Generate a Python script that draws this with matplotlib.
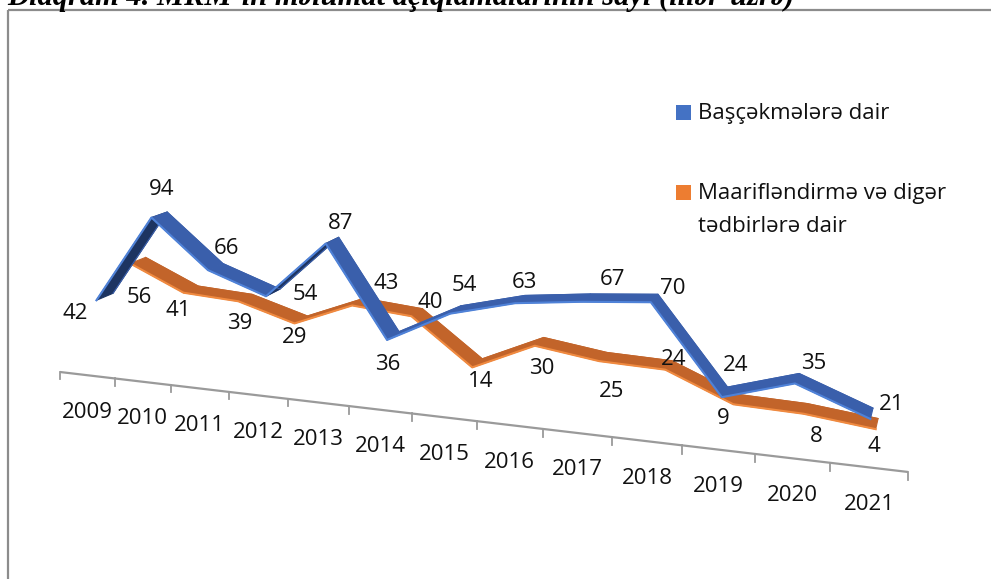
import numpy as np
import matplotlib
matplotlib.use("Agg")
import matplotlib.pyplot as plt
import matplotlib.transforms as mtransforms
from matplotlib.patches import Polygon, Rectangle

# ---------------- data ----------------
years = ["2009", "2010", "2011", "2012", "2013", "2014", "2015",
         "2016", "2017", "2018", "2019", "2020", "2021"]
series_names = [["Başçəkmələrə dair"], ["Maarifləndirmə və digər", "tədbirlərə dair"]]
basc_values = [42, 94, 66, 54, 87, 36, 54, 63, 67, 70, 24, 35, 21]
maarif_values = [56, 41, 39, 29, 43, 40, 14, 30, 25, 24, 9, 8, 4]
title_text = "Diaqram 4. MRM-in məlumat açıqlamalarının sayı (illər-üzrə)"

# ---------------- label placement (pixels, right/down) ----------------
basc_label_off = [(-30, 17), (2, -25), (11, -18), (32, 2), (8, -17), (-5, 29), (9, -24),
                  (4, -17), (26, -18), (18, -10), (11, -27), (17, -15), (20, -9)]
maarif_label_off = [(1, 37), (-13, 21), (-6, 26), (-6, 18), (28, -18), (13, -10), (3, 18),
                    (2, 27), (9, 35), (5, -6), (-13, 19), (11, 28), (-3, 23)]

FONT = ["Open Sans", "Noto Sans", "DejaVu Sans"]
plt.rcParams["font.family"] = FONT
FS = 16

W, H = 991, 579
fig = plt.figure(figsize=(W / 100, H / 100), dpi=100)
ax = fig.add_axes([0, 0, 1, 1])
ax.set_xlim(0, W)
ax.set_ylim(H, 0)
ax.axis("off")


class PerspectiveTransform(mtransforms.Transform):
    """Simple 3D->2D camera: (category, value) at a fixed depth -> canvas."""
    input_dims = 2
    output_dims = 2
    is_separable = False
    has_inverse = False

    cam = dict(x0=60.0, A=53.22, B=39.1, C=-0.01323, G=0.03955,
               y0=372.0, E=1.446, F=-3.0, K=1.68)

    def __init__(self, zdepth):
        super().__init__()
        self._z = zdepth

    def transform_non_affine(self, values):
        v = np.asarray(values, dtype=float)
        X, Y = v[:, 0], v[:, 1]
        c = self.cam
        z = self._z
        w = 1.0 + c["C"] * X + c["G"] * z
        sx = (c["x0"] + c["A"] * X + c["B"] * z) / w
        sy = (c["y0"] + c["E"] * X + c["F"] * z - c["K"] * Y) / w
        return np.column_stack([sx, sy])


def project(X, Y, zdepth):
    pts = np.column_stack([np.atleast_1d(X), np.atleast_1d(Y)]).astype(float)
    return PerspectiveTransform(zdepth).transform(pts)


n = len(years)
xc = np.arange(n) + 0.5

# ---------------- category axis ----------------
ticks = np.arange(n + 1)
axis_pts = project(ticks, np.zeros(n + 1), 0.0)
ax.plot(axis_pts[:, 0], axis_pts[:, 1], color="#9a9a9a", lw=1.6,
        solid_capstyle="butt", zorder=2)
tick_bot = project(ticks, np.full(n + 1, -4.2), 0.0)
for a, b in zip(axis_pts, tick_bot):
    ax.plot([a[0], b[0]], [a[1], b[1]], color="#9a9a9a", lw=1.3, zorder=2)

lab_pts = project(xc, np.zeros(n), 0.0)
for (px, py), yr in zip(lab_pts, years):
    ax.annotate(yr, xy=(px, py), xytext=(0, -37), textcoords="offset pixels",
                ha="center", va="center", fontsize=FS, color="#111111", zorder=3)


# ---------------- ribbons ----------------
def draw_ribbon(values, zc, top, under, edge, zorder):
    hw = 0.24
    front = project(xc, values, zc - hw)
    back = project(xc, values, zc + hw)
    for i in range(n - 1):
        quad = np.array([front[i], front[i + 1], back[i + 1], back[i]])
        xs, ys = quad[:, 0], quad[:, 1]
        area = 0.5 * np.sum(xs * np.roll(ys, -1) - np.roll(xs, -1) * ys)
        col = top if area < 0 else under
        ax.add_patch(Polygon(quad, closed=True, facecolor=col, edgecolor=col,
                             lw=0.8, joinstyle="round", zorder=zorder))
    ax.plot(front[:, 0], front[:, 1], color=edge, lw=1.5,
            solid_joinstyle="round", zorder=zorder + 0.1)
    ax.plot(back[:, 0], back[:, 1], color=top, lw=0.8,
            solid_joinstyle="round", zorder=zorder + 0.05)
    return project(xc, values, zc)


m_center = draw_ribbon(maarif_values, 1.5, "#c2642a", "#9a4a18", "#f08a40", 4)
b_center = draw_ribbon(basc_values, 0.5, "#3a5fab", "#1d3461", "#4f82d8", 6)

# ---------------- data labels ----------------
for (px, py), v, (dx, dy) in zip(b_center, basc_values, basc_label_off):
    ax.annotate(str(v), xy=(px, py), xytext=(dx, -dy), textcoords="offset pixels",
                ha="center", va="center", fontsize=FS, color="#111111", zorder=8)
for (px, py), v, (dx, dy) in zip(m_center, maarif_values, maarif_label_off):
    ax.annotate(str(v), xy=(px, py), xytext=(dx, -dy), textcoords="offset pixels",
                ha="center", va="center", fontsize=FS, color="#111111", zorder=8)

# ---------------- legend ----------------
legend_colors = ["#4472c4", "#ed7d31"]
legend_y = [113, 193]
for lines, col, ly in zip(series_names, legend_colors, legend_y):
    ax.add_patch(Rectangle((676, ly - 8), 15, 15, facecolor=col, edgecolor="none", zorder=5))
    for k, line in enumerate(lines):
        ax.text(698, ly + 33 * k, line, ha="left", va="center", fontsize=FS,
                color="#111111", zorder=5)

# ---------------- frame & title ----------------
ax.add_patch(Rectangle((8, 10), W + 20, H + 20, facecolor="none", edgecolor="#8c8c8c",
                       lw=1.6, zorder=1, clip_on=False))
ax.text(7, 5, title_text, ha="left", va="baseline", fontsize=22,
        family=["Liberation Serif", "DejaVu Serif"], fontweight="bold", fontstyle="italic",
        color="black", zorder=9, clip_on=False)

fig.savefig("out.png", dpi=100)
